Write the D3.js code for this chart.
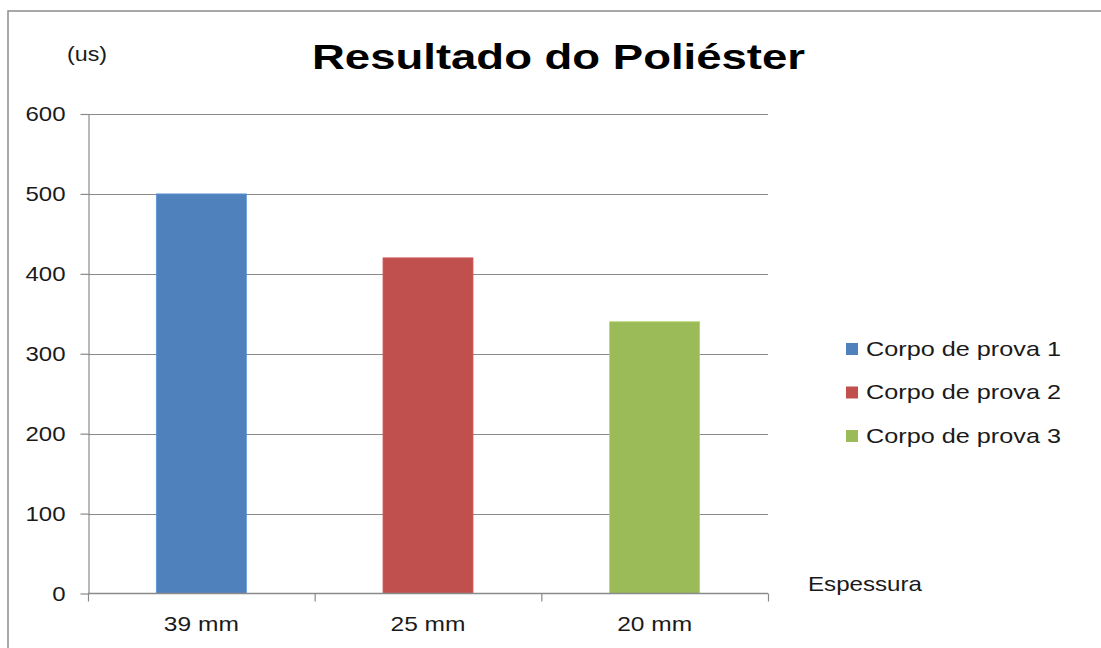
<!DOCTYPE html>
<html>
<head>
<meta charset="utf-8">
<script src="https://cdn.jsdelivr.net/npm/d3@7"></script>
<style>
  html, body { margin: 0; padding: 0; background: #fff; }
  svg { display: block; }
  text { font-family: "Liberation Sans", Arial, sans-serif; fill: #1a1a1a; }
</style>
</head>
<body>
<svg id="chart" width="1101" height="648"></svg>
<script>
// Chart data
const categories = ["39 mm", "25 mm", "20 mm"];
const seriesNames = ["Corpo de prova 1", "Corpo de prova 2", "Corpo de prova 3"];
const seriesValues = [500, 420, 340];
const seriesColors = ["#4F81BD", "#C0504D", "#9BBB59"];
const yTickValues = [0, 100, 200, 300, 400, 500, 600];
const titleText = "Resultado do Poliéster";
const yUnitText = "(us)";
const xAxisTitle = "Espessura";

const svg = d3.select("#chart");

// Plot area
const plot = { left: 88, right: 768, top: 114, bottom: 593.5 };

const x = d3.scaleBand()
  .domain(categories)
  .range([plot.left, plot.right])
  .paddingInner(0.603)
  .paddingOuter(0.3015);

const y = d3.scaleLinear()
  .domain([0, 600])
  .range([plot.bottom, plot.top]);

// Outer frame (extends past the right and bottom edges)
svg.append("rect")
  .attr("x", 8).attr("y", 11)
  .attr("width", 1300).attr("height", 1000)
  .attr("fill", "none")
  .attr("stroke", "#8c8c8c")
  .attr("stroke-width", 1.5);

// Horizontal gridlines
svg.append("g")
  .selectAll("line")
  .data(yTickValues.filter(d => d > 0))
  .join("line")
  .attr("x1", plot.left).attr("x2", plot.right)
  .attr("y1", d => Math.round(y(d)) + 0.5)
  .attr("y2", d => Math.round(y(d)) + 0.5)
  .attr("stroke", "#8a8a8a")
  .attr("stroke-width", 1.2);

// Bars: one series per thickness
const data = categories.map((c, i) => ({ cat: c, name: seriesNames[i], value: seriesValues[i], color: seriesColors[i] }));
svg.append("g")
  .selectAll("rect")
  .data(data)
  .join("rect")
  .attr("x", d => x(d.cat))
  .attr("y", d => y(d.value))
  .attr("width", x.bandwidth())
  .attr("height", d => y(0) - y(d.value))
  .attr("fill", d => d.color)
  .attr("stroke", d => d3.color(d.color).brighter(0.35))
  .attr("stroke-width", 0.8);

// Y axis
const yAxis = svg.append("g")
  .attr("transform", `translate(${plot.left + 0.5},0)`)
  .call(d3.axisLeft(y).tickValues(yTickValues).tickSize(8).tickSizeOuter(0).tickPadding(0));
yAxis.select(".domain").attr("stroke", "#8a8a8a").attr("stroke-width", 1.2);
yAxis.selectAll(".tick line").attr("stroke", "#8a8a8a").attr("stroke-width", 1.2);
yAxis.selectAll(".tick text")
  .attr("x", null).attr("dy", null)
  .attr("text-anchor", "end")
  .attr("font-size", 20)
  .attr("dominant-baseline", "central")
  .attr("transform", "translate(-23,0) scale(1.2,1)");

// X axis
const xEdges = [plot.left, ...categories.map(c => x(c) + x.bandwidth() / 2 + x.step() / 2)];
const xAxisG = svg.append("g");
xAxisG.append("line")
  .attr("x1", plot.left).attr("x2", plot.right)
  .attr("y1", y(0)).attr("y2", y(0))
  .attr("stroke", "#8a8a8a").attr("stroke-width", 1.4);
xAxisG.selectAll("line.tk")
  .data(xEdges)
  .join("line")
  .attr("class", "tk")
  .attr("x1", d => d + 0.5).attr("x2", d => d + 0.5)
  .attr("y1", y(0)).attr("y2", y(0) + 8)
  .attr("stroke", "#8a8a8a").attr("stroke-width", 1.2);
xAxisG.selectAll("text")
  .data(categories)
  .join("text")
  .attr("x", d => x(d) + x.bandwidth() / 2 - 37.5)
  .attr("y", 631)
  .attr("font-size", 21)
  .attr("textLength", 75)
  .attr("lengthAdjust", "spacingAndGlyphs")
  .text(d => d);

// Title
svg.append("text")
  .attr("x", 312).attr("y", 68.5)
  .attr("font-size", 35)
  .attr("font-weight", "bold")
  .attr("textLength", 493)
  .attr("lengthAdjust", "spacingAndGlyphs")
  .style("fill", "#000")
  .text(titleText);

// Unit label
svg.append("text")
  .attr("x", 67).attr("y", 60.5)
  .attr("font-size", 20)
  .attr("textLength", 40)
  .attr("lengthAdjust", "spacingAndGlyphs")
  .text(yUnitText);

// X axis title
svg.append("text")
  .attr("x", 808).attr("y", 590.5)
  .attr("font-size", 21)
  .attr("textLength", 114)
  .attr("lengthAdjust", "spacingAndGlyphs")
  .text(xAxisTitle);

// Legend
const legend = svg.append("g").selectAll("g")
  .data(data)
  .join("g")
  .attr("transform", (d, i) => `translate(846,${343 + i * 43.5})`);
legend.append("rect")
  .attr("width", 12).attr("height", 12)
  .attr("fill", d => d.color);
legend.append("text")
  .attr("x", 20).attr("y", 12.5)
  .attr("font-size", 21)
  .attr("textLength", 195)
  .attr("lengthAdjust", "spacingAndGlyphs")
  .text(d => d.name);
</script>
</body>
</html>
